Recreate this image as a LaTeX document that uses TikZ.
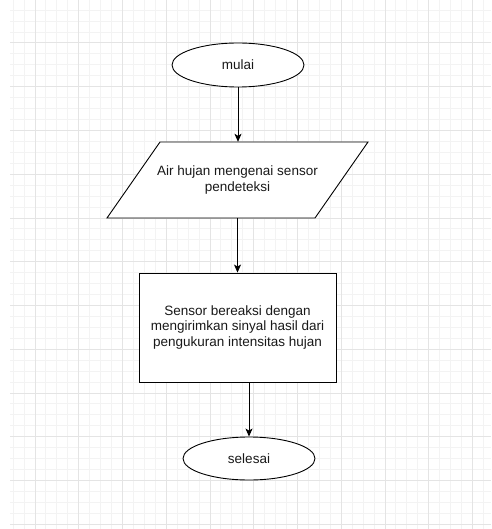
\documentclass[tikz,border=0pt]{standalone}
\usepackage{fontspec}
\setmainfont{Liberation Sans}
\usetikzlibrary{shapes.geometric,arrows.meta,calc}
\definecolor{gridminor}{HTML}{F3F3F3}
\definecolor{gridmajor}{HTML}{E4E4E4}
\definecolor{linec}{HTML}{000000}
\tikzset{
  every node/.style={font=\fontsize{13.5}{15.5}\selectfont, text=black!90, align=center},
  terminal/.style={draw=linec, line width=0.9pt, ellipse, fill=white, minimum width=132pt, minimum height=44pt, inner sep=0pt},
  iobox/.style={rectangle, minimum width=208pt, minimum height=76pt, inner sep=0pt},
  ioline/.style={draw=linec, line width=0.9pt, fill=white, line join=miter},
  procbox/.style={draw=linec, line width=0.9pt, rectangle, fill=white, minimum width=197pt, minimum height=109pt, inner sep=0pt},
  flow/.style={draw=linec, line width=0.9pt, -{Stealth[length=8pt,width=7pt,inset=2pt]}},
}
\begin{document}
\begin{tikzpicture}[x=1pt,y=-1pt]
\useasboundingbox (0,0) rectangle (491,529);
\fill[white] (0,0) rectangle (491,529);
\begin{scope}
\clip (10,0) rectangle (491,529);
\foreach \i in {-3,...,44} {
  \pgfmathsetmacro\xx{35+10.9375*\i}
  \pgfmathsetmacro\yy{43+10.9375*\i}
  \draw[gridminor, line width=1pt] (\xx,0) -- (\xx,529);
  \draw[gridminor, line width=1pt] (0,\yy) -- (491,\yy);
}
\foreach \i in {-1,...,11} {
  \pgfmathsetmacro\xx{35+43.75*\i}
  \pgfmathsetmacro\yy{43+43.75*\i}
  \draw[gridmajor, line width=1pt] (\xx,0) -- (\xx,529);
  \draw[gridmajor, line width=1pt] (0,\yy) -- (491,\yy);
}
\end{scope}

\node[terminal] (start) at (238,65) {mulai};
\coordinate (inputc) at (237.5,180);
\draw[ioline] ($(inputc)+(-77.5,-38)$) -- ($(inputc)+(130.5,-38)$) -- ($(inputc)+(77.5,38)$) -- ($(inputc)+(-130.5,38)$) -- cycle;
\node[iobox] (input) at (inputc) {Air hujan mengenai sensor\\pendeteksi};
\node[procbox] (proc) at (237.5,327.5) {Sensor bereaksi dengan\\mengirimkan sinyal hasil dari\\pengukuran intensitas hujan};
\node[terminal, minimum height=43pt] (stop) at (249,458.5) {selesai};

\draw[flow] (start.south) -- (start.south |- input.north);
\draw[flow] (input.south) -- (input.south |- proc.north);
\draw[flow] (stop.north |- proc.south) -- (stop.north);
\end{tikzpicture}
\end{document}
